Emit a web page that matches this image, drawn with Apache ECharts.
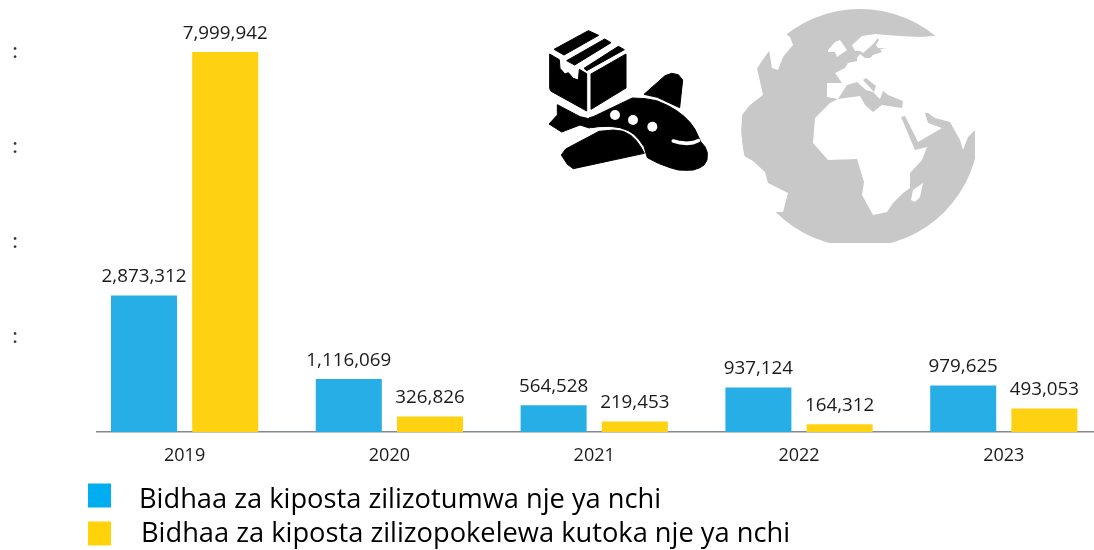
<!DOCTYPE html>
<html>
<head>
<meta charset="utf-8">
<style>html,body{margin:0;padding:0;background:#fff}#c{width:1094px;height:550px}</style>
<script src="https://cdn.jsdelivr.net/npm/echarts@6/dist/echarts.min.js"></script>
</head>
<body>
<div id="c"></div>
<script>
const categories = ['2019', '2020', '2021', '2022', '2023'];
const sentName = 'Bidhaa za kiposta zilizotumwa nje ya nchi';
const receivedName = 'Bidhaa za kiposta zilizopokelewa kutoka nje ya nchi';
const sentValues = [2873312, 1116069, 564528, 937124, 979625];
const receivedValues = [7999942, 326826, 219453, 164312, 493053];
const yTicks = [0, 2000000, 4000000, 6000000, 8000000];

const FONT = '"Open Sans"';
const chart = echarts.init(document.getElementById('c'), null, { renderer: 'canvas' });

const black = { fill: '#000', stroke: '#000', lineWidth: 3, lineJoin: 'round' };
const poly = (points, style) => ({ type: 'polygon', shape: { points }, style: style || black });
const dot = (cx, cy, r) => ({ type: 'circle', shape: { cx, cy, r }, style: { fill: '#fff' } });

// parcel + aeroplane icon, traced at 3x
const planeIcon = {
  type: 'group', x: 530, y: 0, scaleX: 1 / 3, scaleY: 1 / 3, silent: true,
  children: [
    poly([[72,148],[175,92],[206,106],[102,165]]),
    poly([[110,182],[224,117],[243,128],[134,195]]),
    poly([[162,205],[265,139],[283,149],[170,212]]),
    poly([[59,162],[88,179],[90,205],[105,222],[115,218],[130,235],[145,240],[148,208],[170,221],[170,333],[62,273],[59,265]]),
    poly([[183,222],[288,162],[288,264],[183,328]]),
    poly([[342,283],[405,227],[425,220],[445,224],[458,240],[449,323],[382,292]]),
    poly([[82,314],[150,350],[172,355],[200,372],[178,384],[150,375],[95,396],[57,372],[82,345]]),
    poly([[307,294],[345,296],[380,302],[412,316],[440,332],[462,349],[480,367],[495,388],[503,405],[512,425],[525,440],[532,458],[531,480],[522,495],[510,503],[490,510],[470,511],[445,510],[420,503],[385,490],[352,473],[342,440],[328,420],[312,403],[295,392],[270,383],[240,379],[205,380],[185,383],[168,365],[178,353],[190,350]]),
    poly([[207,394],[250,390],[280,394],[302,406],[318,421],[332,440],[343,460],[130,506],[112,493],[94,465],[107,447]]),
    { type: 'polyline', shape: { points: [[430,423],[450,428],[470,430],[490,428],[505,422]] }, style: { fill: null, stroke: '#fff', lineWidth: 11, lineCap: 'round', lineJoin: 'round' } },
    dot(255, 345, 15), dot(309, 360, 15), dot(367, 380, 15)
  ]
};

const white = { fill: '#fff' };
const gray = { fill: '#c8c8c8' };
// globe icon: grey disc with land cut out in white
const globeIcon = {
  type: 'group', silent: true,
  children: [
    { type: 'circle', shape: { cx: 860, cy: 128, r: 119 }, style: gray },
    poly([[787,30],[787,35],[790,37],[793,45],[783,57],[778,70],[772,68],[769,50],[757,68],[763,95],[750,105],[742,115],[741,133],[744,156],[753,161],[765,172],[768,183],[788,193],[783,212],[775,212],[730,212],[730,30]], white),
    poly([[990,36],[934,36],[920,37],[900,36],[875,34],[862,36],[852,45],[855,51],[860,51],[863,53],[870,47],[875,42],[878,38],[879,40],[876,45],[878,48],[887,48],[880,49],[882,52],[873,55],[870,58],[865,58],[860,54],[857,58],[857,61],[848,63],[845,68],[835,73],[842,83],[827,83],[827,97],[838,99],[830,103],[815,118],[813,143],[828,160],[857,159],[864,182],[862,195],[873,215],[887,212],[893,203],[903,193],[910,188],[910,173],[922,160],[927,147],[915,150],[901,117],[905,116],[918,142],[942,128],[928,123],[925,113],[928,113],[935,118],[950,122],[960,140],[963,150],[968,137],[975,130],[990,125]], white),
    poly([[838,99],[847,85],[857,82],[866,90],[873,92],[880,99],[883,91],[888,95],[903,101],[902,108],[882,105],[873,112],[865,105],[860,96]], gray),
    poly([[863,80],[866,78],[876,86],[874,92]], gray),
    poly([[828,50],[835,42],[840,40],[847,50],[837,57],[835,52],[828,52]], white),
    poly([[923,183],[920,197],[915,202],[911,200],[913,190]], white),
    { type: 'rect', shape: { x: 975, y: 0, width: 10, height: 250 }, style: white },
    { type: 'rect', shape: { x: 730, y: 243, width: 260, height: 10 }, style: white }
  ]
};

const valueLabel = {
  show: true, position: 'top', distance: 9, fontFamily: FONT, fontSize: 18.8, color: '#1a1a1a',
  formatter: p => p.value.toLocaleString('en-US')
};
const legendBase = {
  left: 88, padding: 0, orient: 'horizontal', icon: 'rect', itemWidth: 23, itemHeight: 24,
  selectedMode: false, formatter: name => '{a|' + name + '}'
};
const legendToken = { fontFamily: FONT, fontSize: 27.25, lineHeight: 30, color: '#000' };

chart.setOption({
  animation: false,
  backgroundColor: '#fff',
  grid: { left: 82.2, width: 1024, top: 52, height: 380, containLabel: false, outerBoundsMode: 'none' },
  xAxis: {
    type: 'category', data: categories,
    axisLine: { show: false }, axisTick: { show: false },
    axisLabel: { fontFamily: FONT, fontSize: 18, color: '#1a1a1a', margin: 15 }
  },
  yAxis: {
    type: 'value', min: yTicks[0], max: yTicks[yTicks.length - 1], interval: yTicks[1] - yTicks[0],
    splitLine: { show: false }, axisLine: { show: false }, axisTick: { show: false },
    axisLabel: {
      align: 'center', margin: 67, fontFamily: '"Liberation Sans Narrow"', fontSize: 24, color: '#333',
      formatter: v => (v === 0 ? '' : ':')
    }
  },
  legend: [
    Object.assign({}, legendBase, { top: 477, textStyle: { rich: { a: Object.assign({}, legendToken, { padding: [10, 0, 0, 23] }) } }, data: [{ name: sentName, itemStyle: { color: '#00aeef' } }] }),
    Object.assign({}, legendBase, { top: 519, textStyle: { rich: { a: Object.assign({}, legendToken, { padding: [2, 0, 0, 25] }) } }, data: [{ name: receivedName, itemStyle: { color: '#ffd20a' } }] })
  ],
  series: [
    { name: sentName, type: 'bar', data: sentValues, barWidth: 66, barGap: '23%', itemStyle: { color: '#27aee6' }, label: valueLabel },
    { name: receivedName, type: 'bar', data: receivedValues, barWidth: 66, itemStyle: { color: '#ffd211' }, label: valueLabel }
  ],
  graphic: [
    planeIcon,
    globeIcon,
    { type: 'line', shape: { x1: 96, y1: 431.7, x2: 1094, y2: 431.7 }, style: { stroke: '#808a90', lineWidth: 1.6 }, silent: true }
  ]
});
</script>
</body>
</html>
